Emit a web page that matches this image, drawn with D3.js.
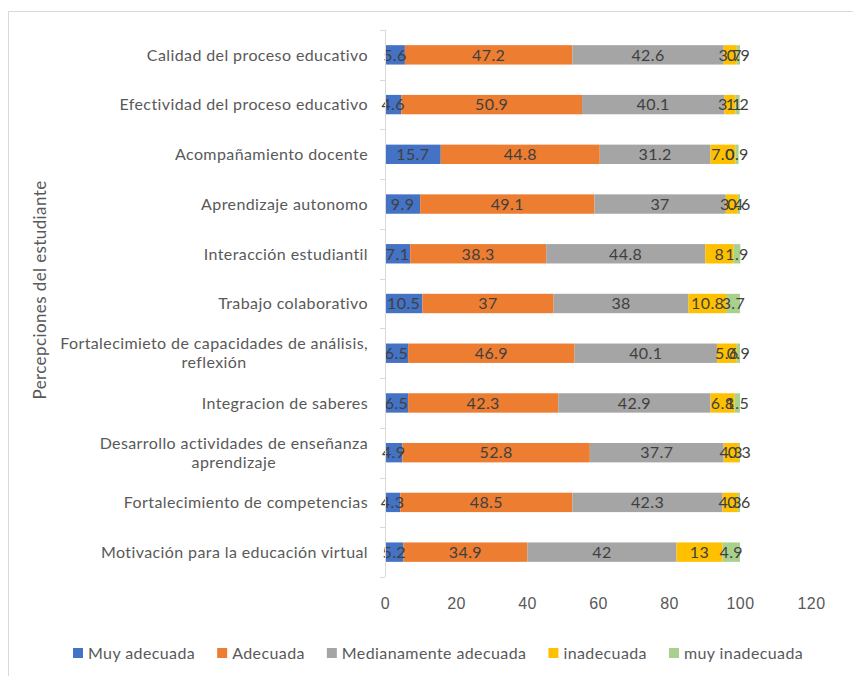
<!DOCTYPE html>
<html>
<head>
<meta charset="utf-8">
<title>Percepciones del estudiante</title>
<script src="https://cdn.jsdelivr.net/npm/d3@7"></script>
<style>
    body { margin: 0; background: #fff; }
    svg { font-family: Lato, 'Noto Sans', sans-serif; }
    .cat text, .xaxis text, .lbl, .legend text { font-size: 16px; letter-spacing: 0.4px; }
    .cat text { fill: #595959; }
    .xaxis text { fill: #595959; }
    .lbl { fill: #404040; text-anchor: middle; }
    .legend text { fill: #595959; }
</style>
</head>
<body>
<div id="chart"></div>
<script>

var categories = [
    "Calidad del proceso educativo",
    "Efectividad del proceso educativo",
    "Acompañamiento docente",
    "Aprendizaje autonomo",
    "Interacción estudiantil",
    "Trabajo colaborativo",
    "Fortalecimieto de capacidades de análisis, reflexión",
    "Integracion de saberes",
    "Desarrollo actividades de enseñanza aprendizaje",
    "Fortalecimiento de competencias",
    "Motivación para la educación virtual"
];

var seriesNames = ["Muy adecuada", "Adecuada", "Medianamente adecuada", "inadecuada", "muy inadecuada"];
var colors = ["#4472C4", "#ED7D31", "#A5A5A5", "#FFC000", "#A9D18E"];

// values kept as strings so the labels read like the original (7.0, 37 ...)
var muyAdecuada   = ["5.6", "4.6", "15.7", "9.9", "7.1", "10.5", "6.5", "6.5", "4.9", "4.3", "5.2"];
var adecuada      = ["47.2", "50.9", "44.8", "49.1", "38.3", "37", "46.9", "42.3", "52.8", "48.5", "34.9"];
var medianamente  = ["42.6", "40.1", "31.2", "37", "44.8", "38", "40.1", "42.9", "37.7", "42.3", "42"];
var inadecuada    = ["3.7", "3.1", "7.0", "3.4", "8", "10.8", "5.6", "6.8", "4.3", "4.3", "13"];
var muyInadecuada = ["0.9", "1.2", "0.9", "0.6", "1.9", "3.7", "0.9", "1.5", "0.3", "0.6", "4.9"];

var xTicks = [0, 20, 40, 60, 80, 100, 120];

var width = 853,
    height = 676;

var svg = d3.select("#chart").append("svg")
    .attr("width", width)
    .attr("height", height);

// outer frame (runs off the right and bottom edge)
svg.append("rect")
    .attr("x", 8.5).attr("y", 11.5)
    .attr("width", 900).attr("height", 700)
    .attr("fill", "none")
    .attr("stroke", "#d9d9d9");

var allSeries = [muyAdecuada, adecuada, medianamente, inadecuada, muyInadecuada];
var rows = categories.map(function(c, i) {
    var r = { cat: c };
    seriesNames.forEach(function(s, j) { r[s] = +allSeries[j][i]; });
    return r;
});

var x = d3.scaleLinear().domain([0, 120]).range([385, 811]);
var y = d3.scaleBand().domain(categories).range([30, 577]).paddingInner(0.61).paddingOuter(0.305);

var stack = d3.stack().keys(seriesNames);
var stacked = stack(rows);

var layers = svg.selectAll("g.layer")
    .data(stacked)
    .enter().append("g")
    .attr("class", "layer")
    .attr("fill", function(d, i) { return colors[i]; });

layers.selectAll("rect")
    .data(function(d) { return d; })
    .enter().append("rect")
    .attr("x", function(d) { return x(d[0]); })
    .attr("y", function(d) { return y(d.data.cat); })
    .attr("width", function(d) { return x(d[1]) - x(d[0]); })
    .attr("height", y.bandwidth());

// value labels
stacked.forEach(function(layer, j) {
    svg.append("g").selectAll("text")
        .data(layer)
        .enter().append("text")
        .attr("class", "lbl")
        .attr("x", function(d) { return (x(d[0]) + x(d[1])) / 2; })
        .attr("y", function(d) { return y(d.data.cat) + y.bandwidth() / 2; })
        .attr("dy", "0.36em")
        .text(function(d, i) { return allSeries[j][i]; });
});

// y axis line + ticks between categories
var band = (577 - 30) / categories.length;
var yAxis = svg.append("g");
yAxis.append("line")
    .attr("x1", 385.5).attr("x2", 385.5)
    .attr("y1", 30).attr("y2", 577)
    .attr("stroke", "#d9d9d9");
yAxis.selectAll("line.tk")
    .data(d3.range(categories.length + 1))
    .enter().append("line")
    .attr("class", "tk")
    .attr("x1", 380).attr("x2", 385)
    .attr("y1", function(i) { return Math.round(30 + i * band) + 0.5; })
    .attr("y2", function(i) { return Math.round(30 + i * band) + 0.5; })
    .attr("stroke", "#d9d9d9");

// category labels, wrapped and centered as one block, right aligned
var cat = svg.append("g").attr("class", "cat");
var maxW = 330, rightX = 368, lineH = 19;
categories.forEach(function(c) {
    var t = cat.append("text").attr("text-anchor", "middle");
    var words = c.split(" "), lines = [], cur = [];
    words.forEach(function(w) {
        cur.push(w);
        t.text(cur.join(" "));
        if (t.node().getComputedTextLength() > maxW && cur.length > 1) {
            cur.pop();
            lines.push(cur.join(" "));
            cur = [w];
        }
    });
    lines.push(cur.join(" "));
    t.text(null);
    var blockW = 0;
    lines.forEach(function(l) {
        var tmp = cat.append("text").text(l);
        blockW = Math.max(blockW, tmp.node().getComputedTextLength());
        tmp.remove();
    });
    var cx = rightX - blockW / 2;
    var cy = y(c) + y.bandwidth() / 2 - (lines.length - 1) * lineH / 2;
    lines.forEach(function(l, k) {
        t.append("tspan")
            .attr("x", cx)
            .attr("y", cy + k * lineH)
            .attr("dy", "0.36em")
            .text(l);
    });
});

// x axis labels
var xAxis = svg.append("g")
    .attr("class", "xaxis")
    .attr("transform", "translate(0,603)")
    .call(d3.axisBottom(x).tickValues(xTicks).tickSize(0).tickPadding(0));
xAxis.select(".domain").remove();
xAxis.selectAll("text").attr("dy", "0.36em").attr("font-size", null).attr("font-family", null);

// axis title
svg.append("text")
    .attr("transform", "translate(40,290) rotate(-90)")
    .attr("text-anchor", "middle")
    .attr("dy", "0.36em")
    .attr("fill", "#595959")
    .style("font-size", "17px")
    .style("letter-spacing", "0.4px")
    .text("Percepciones del estudiante");

// legend
var legend = svg.append("g").attr("class", "legend");
var items = legend.selectAll("g")
    .data(seriesNames)
    .enter().append("g");
items.append("rect")
    .attr("width", 10).attr("height", 10)
    .attr("y", -5)
    .attr("fill", function(d, i) { return colors[i]; });
items.append("text")
    .attr("x", 15)
    .attr("dy", "0.36em")
    .text(function(d) { return d; });
var lx = 0, pos = [];
items.each(function() {
    pos.push(lx);
    lx += 15 + d3.select(this).select("text").node().getComputedTextLength() + 22;
});
var startX = 73;
items.attr("transform", function(d, i) { return "translate(" + (startX + pos[i]) + ",653)"; });

</script>
</body>
</html>
